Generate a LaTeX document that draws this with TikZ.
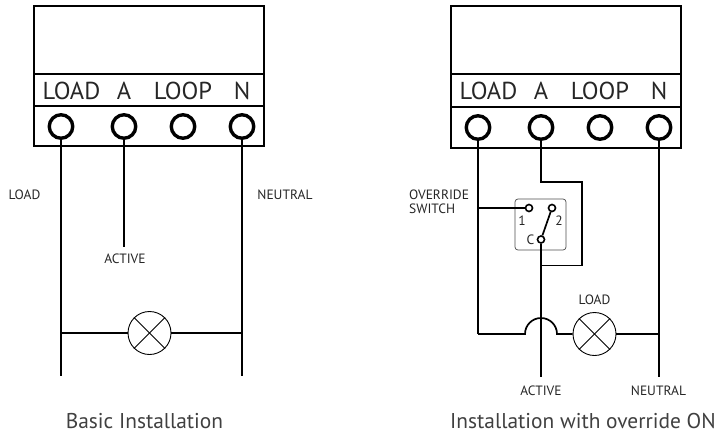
\documentclass[tikz,border=0pt]{standalone}
\usepackage{fontspec}
\setmainfont{PT Sans}
\usetikzlibrary{calc}
\tikzset{
	wire/.style={line width=1.7pt},
	terminal/.style={draw, circle, line width=3.4pt, minimum size=23.5pt, inner sep=0pt},
	contact/.style={draw, circle, fill=white, line width=1.6pt, minimum size=7pt, inner sep=0pt},
	lamp/.style={draw, circle, fill=white, line width=0.9pt, minimum size=43pt, inner sep=0pt},
	strip/.style={font=\fontsize{24.5}{25}\selectfont, text=black!85, inner sep=0pt},
	tag/.style={font=\fontsize{13.5}{14.5}\selectfont, text=black!85, inner sep=0pt, align=left},
	caption/.style={font=\fontsize{21.4}{22}\selectfont, text=black!75, inner sep=0pt}
}
\begin{document}
\begin{tikzpicture}[x=1pt,y=-1pt]
	\useasboundingbox (0,0) rectangle (717,434);
	
	% basic installation
	\draw[wire] (34,6) rectangle (264,146);
	\draw[wire] (34,74) -- (264,74);
	\draw[wire] (34,106) -- (264,106);
	\node[strip] (labelA) at (71.5,91) {LOAD};
	\node[strip] (labelB) at (124,91) {A};
	\node[strip] (labelC) at (183,91) {LOOP};
	\node[strip] (labelD) at (242,91) {N};
	\node[terminal] (termA) at (61,126.5) {};
	\node[terminal] (termB) at (124,126.5) {};
	\node[terminal] (termC) at (183,126.5) {};
	\node[terminal] (termD) at (242,126.5) {};
	
	\coordinate (endA) at (61,376);
	\coordinate (endB) at (124,247);
	\coordinate (endD) at (242,376);
	\draw[wire] (termA.south) -- (endA);
	\draw[wire] (termB.south) -- (endB);
	\draw[wire] (termD.south) -- (endD);
	
	\node[lamp] (lampA) at (149.5,333) {};
	\draw[line width=0.9pt] (lampA.north west) -- (lampA.south east);
	\draw[line width=0.9pt] (lampA.north east) -- (lampA.south west);
	\draw[wire] (lampA.west) -- (lampA.west -| termA);
	\draw[wire] (lampA.east) -- (lampA.east -| termD);
	
	\node[tag] (tagLoad) at (24.5,195) {LOAD};
	\node[tag] (tagActive) at (125,259) {ACTIVE};
	\node[tag] (tagNeutral) at (285,195) {NEUTRAL};
	\node[caption] (capA) at (144.5,421.5) {Basic Installation};
	
	% installation with override
	\draw[wire] (451,6) rectangle (681,148);
	\draw[wire] (451,74) -- (681,74);
	\draw[wire] (451,107) -- (681,107);
	\node[strip] (labelE) at (488.5,91) {LOAD};
	\node[strip] (labelF) at (541,91) {A};
	\node[strip] (labelG) at (600,91) {LOOP};
	\node[strip] (labelH) at (659,91) {N};
	\node[terminal] (termE) at (478,127.5) {};
	\node[terminal] (termF) at (541,127.5) {};
	\node[terminal] (termG) at (600,127.5) {};
	\node[terminal] (termH) at (659,127.5) {};
	
	\draw[line width=0.7pt, draw=black!70, rounded corners=3pt] (515,199) rectangle (566,250);
	\node[contact] (contactOne) at (529,208) {};
	\node[contact] (contactTwo) at (552,208) {};
	\node[contact] (contactC) at (541,239.5) {};
	\draw[wire] (contactTwo) -- (contactC);
	\node[tag] (tagOne) at (522,221) {1};
	\node[tag] (tagTwo) at (559,221) {2};
	\node[tag] (tagC) at (530.5,240) {C};
	
	\coordinate (bendA) at (541,182);
	\coordinate (bendB) at (582,182);
	\coordinate (bendC) at (582,265.5);
	\coordinate (bendD) at (541,265.5);
	\coordinate (endE) at (478,334);
	\coordinate (endF) at (541,377);
	\coordinate (endH) at (659,377);
	\draw[wire] (termF.south) -- (bendA) -- (bendB) -- (bendC) -- (bendD);
	\draw[wire] (contactC) -- (endF);
	\draw[wire] (termH.south) -- (endH);
	\draw[wire] (termE.south) -- (endE);
	\draw[wire] (contactOne.west) -- (contactOne.west -| termE);
	
	\node[lamp] (lampB) at (594.5,334) {};
	\draw[line width=0.9pt] (lampB.north west) -- (lampB.south east);
	\draw[line width=0.9pt] (lampB.north east) -- (lampB.south west);
	\draw[wire] (lampB.east) -- (lampB.east -| termH);
	\draw[wire] (endE) -- (525,334) arc (180:360:16) -- (lampB.west);
	
	\node[tag, anchor=west] (tagOverride) at (409,202) {OVERRIDE\\SWITCH};
	\node[tag] (tagLoadB) at (594.5,299.5) {LOAD};
	\node[tag] (tagActiveB) at (541,391) {ACTIVE};
	\node[tag] (tagNeutralB) at (658.5,391) {NEUTRAL};
	\node[caption] (capB) at (583,421.5) {Installation with override ON};
\end{tikzpicture}
\end{document}
